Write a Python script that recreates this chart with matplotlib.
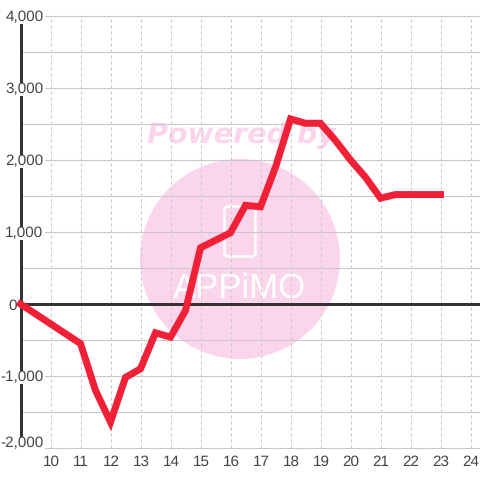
import matplotlib
matplotlib.use("Agg")
import matplotlib.pyplot as plt
from matplotlib.patches import Circle, FancyBboxPatch, Rectangle

hours = [9, 11, 11.5, 12, 12.5, 13, 13.5, 14, 14.5, 15, 16, 16.5, 17, 17.5, 18, 18.5, 19, 19.5, 20, 20.5, 21, 21.5, 22, 22.5, 23]
values = [0, -550, -1200, -1640, -1020, -900, -400, -460, -90, 780, 990, 1370, 1350, 1900, 2570, 2510, 2510, 2270, 2000, 1760, 1470, 1520, 1520, 1520, 1520]
x_ticks = list(range(10, 25))
y_ticks = [-2000, -1000, 0, 1000, 2000, 3000, 4000]
y_grid = list(range(-2000, 4001, 500))

plt.rcParams['font.family'] = ['Liberation Sans', 'DejaVu Sans']
plt.rcParams['text.hinting'] = 'none'
PX = 0.72
fig = plt.figure(figsize=(4.8, 4.8), dpi=100)
W = 480
ax = fig.add_axes([20.5 / W, (480 - 448) / W, (480 - 20.5) / W, 432 / W])
ax.set_xlim(9, 9 + (480 - 20.5) / 30)
ax.set_ylim(-2000, 4000)
for s in ax.spines.values():
    s.set_visible(False)

bg = fig.add_axes([0, 0, 1, 1], zorder=-1)
bg.set_xlim(0, 480); bg.set_ylim(480, 0); bg.axis('off')
pink = '#fbd5ec'
bg.add_patch(Circle((240, 259), 100, fc=pink, ec='none'))
bg.text(241, 135, 'Powered by', color=pink, fontsize=20.5, fontweight='bold', style='italic',
        ha='center', va='center', family='DejaVu Sans')
bg.add_patch(FancyBboxPatch((224.5, 206.5), 31, 50, boxstyle='round,pad=0,rounding_size=4', fc='none', ec='white', lw=2.5 * PX))
bg.text(240, 289, 'APPiMO', color='white', fontsize=25, ha='center', va='center',
        family='Liberation Sans')

ax.patch.set_alpha(0)
ax.set_yticks(y_grid)
ax.set_yticklabels([])
ax.set_xticks(x_ticks)
ax.set_xticklabels([])
ax.tick_params(length=0)
ax.grid(True, axis='y', color='#c8c8c8', lw=1.1 * PX, zorder=1, clip_on=False)
ax.grid(True, axis='x', color='#c8c8c8', lw=1 * PX, ls=(0, (3, 3)), zorder=1)
ax.set_axisbelow(True)
ax.axhline(0, color='#333333', lw=3 * PX, zorder=2)
ax.axvline(9, color='#333333', lw=3 * PX, zorder=2, clip_on=False)
ax.plot(hours, values, color='#f02037', lw=7 * PX, solid_joinstyle='miter', solid_capstyle='projecting', zorder=3, clip_on=False)

for v in y_ticks:
    up = 6 if v == -2000 else 0          # lowest label sits above its gridline
    if v != 0:
        lo = v - (8 - up) / 0.072
        ax.add_patch(Rectangle((9 - 16.5 / 30, lo), 41 / 30, 13 / 0.072, fc='white', ec='none', zorder=4, clip_on=False))
    ax.annotate(f'{v:,}', (9, v), xytext=(-4 if v == 0 else 23, -5.5 + up), xycoords='data', textcoords='offset pixels',
                ha='right', va='baseline', fontsize=11, color='#444444', zorder=5, annotation_clip=False)
for v in x_ticks:
    ax.annotate(str(v), (v, -2000), xytext=(0.5, -18), xycoords='data', textcoords='offset pixels',
                ha='center', va='baseline', fontsize=11, color='#444444', annotation_clip=False)

fig.savefig('out.png', dpi=100)
